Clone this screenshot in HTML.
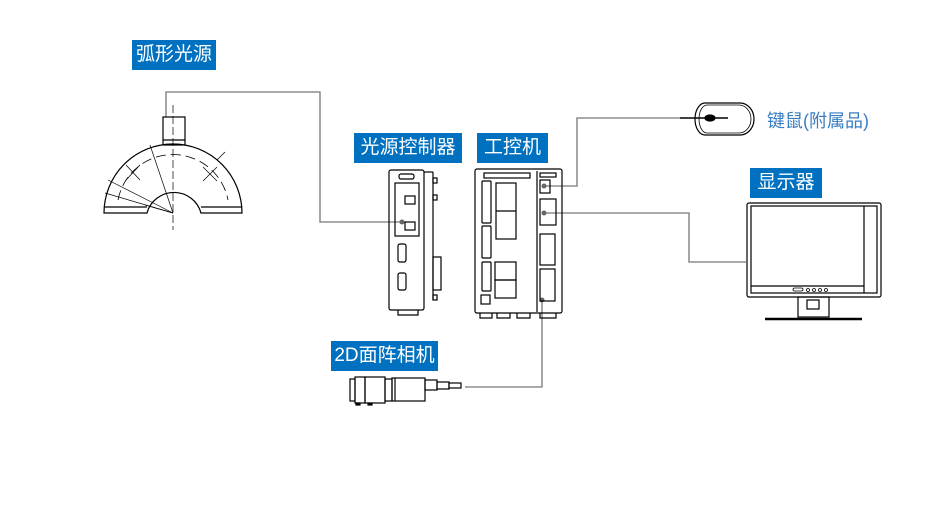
<!DOCTYPE html>
<html><head><meta charset="utf-8"><style>
body{margin:0;background:#fff;width:951px;height:520px;overflow:hidden;}
.lb{position:absolute;background:#0070c0;color:#fff;font-family:"Liberation Sans","Noto Sans CJK SC",sans-serif;font-size:19px;line-height:30px;height:30px;text-align:center;}
</style></head><body>
<div class="lb" style="left:132px;top:40px;width:84px;">弧形光源</div>
<div class="lb" style="left:354px;top:133px;width:108px;">光源控制器</div>
<div class="lb" style="left:477px;top:133px;width:71px;">工控机</div>
<div class="lb" style="left:750px;top:168px;width:72px;">显示器</div>
<div class="lb" style="left:331px;top:341px;width:107px;">2D面阵相机</div>
<div style="position:absolute;left:767px;top:107px;font-family:'Liberation Sans','Noto Sans CJK SC',sans-serif;font-size:18px;color:#3a7dc0;">键鼠(附属品)</div>
<svg width="951" height="520" style="position:absolute;left:0;top:0" fill="none" stroke="#000" stroke-width="1.2">
<!-- cables -->
<g stroke="#777" stroke-width="1.3">
<polyline points="166,117 166,92 320,92 320,222 402,222"/>
<polyline points="544,186 577,186 577,118 680,118"/>
<polyline points="544,213 689,213 689,262 746,262"/>
<polyline points="542,300 542,387 465,387"/>
</g>
<g fill="#666" stroke="none"><circle cx="402" cy="222" r="2.5"/><circle cx="544" cy="186" r="2.5"/><circle cx="544" cy="213" r="2.5"/><circle cx="542" cy="300" r="2.5"/></g>
<!-- arc light -->
<path d="M104,213 A69,69 0 0 1 242,213 L201,213 A28,28 0 0 0 147,213 Z"/>
<line x1="104" y1="207" x2="147" y2="207"/><line x1="201" y1="207" x2="242" y2="207"/>
<path d="M118,200 A56,56 0 0 1 228,200" stroke-dasharray="10,5" stroke-width="0.8"/>
<rect x="163" y="117" width="22" height="28"/><line x1="163" y1="140" x2="185" y2="140"/>
<line x1="173" y1="105" x2="173" y2="230" stroke-dasharray="8,3" stroke-width="0.7"/>
<g stroke-width="0.7"><line x1="173" y1="213" x2="150" y2="145"/><line x1="173" y1="213" x2="108" y2="180"/><line x1="173" y1="213" x2="105" y2="193"/><line x1="173" y1="213" x2="145" y2="205"/>
<line x1="126" y1="165" x2="140" y2="180"/><line x1="126" y1="180" x2="140" y2="165"/><line x1="203" y1="167" x2="217" y2="181"/><line x1="203" y1="181" x2="217" y2="167"/><line x1="217" y1="160" x2="225" y2="152"/></g>
<!-- light controller -->
<rect x="389" y="170" width="35" height="140" rx="2"/>
<rect x="399" y="174" width="15" height="5" rx="2"/>
<rect x="395" y="183" width="24" height="53"/>
<rect x="405" y="196" width="10" height="8"/><rect x="405" y="222" width="10" height="8"/>
<rect x="398" y="244" width="8" height="18" rx="2"/><rect x="398" y="273" width="8" height="17" rx="2"/>
<line x1="424" y1="172" x2="433" y2="172"/><line x1="433" y1="172" x2="433" y2="300"/>
<rect x="433" y="257" width="8" height="33"/><rect x="433" y="178" width="4" height="5"/><rect x="433" y="195" width="4" height="5"/><rect x="433" y="295" width="4" height="5"/>
<path d="M398,310 v5 h20 v-5"/>
<!-- IPC -->
<rect x="475" y="169" width="87" height="144" rx="2"/>
<line x1="537" y1="171" x2="537" y2="312"/>
<rect x="484" y="173" width="46" height="5"/>
<rect x="482" y="181" width="9" height="42" rx="1"/><rect x="482" y="226" width="9" height="32" rx="1"/><rect x="482" y="262" width="9" height="29" rx="1"/>
<rect x="496" y="183" width="20" height="56"/><line x1="496" y1="211" x2="516" y2="211"/>
<rect x="495" y="262" width="21" height="18"/><rect x="495" y="280" width="21" height="18"/>
<rect x="481" y="295" width="9" height="9"/>
<rect x="540" y="173" width="16" height="4"/>
<rect x="540" y="180" width="10" height="13"/><rect x="540" y="199" width="16" height="26"/><rect x="540" y="234" width="15" height="31"/><rect x="540" y="269" width="15" height="32"/>
<path d="M480,313 v5 h12 v-5 M497,313 v5 h13 v-5 M517,313 v5 h13 v-5 M540,313 v5 h16 v-5"/>
<!-- camera -->
<rect x="350" y="379" width="5" height="22"/><rect x="355" y="377" width="10" height="26"/><rect x="365" y="377" width="20" height="26"/><rect x="385" y="379" width="7" height="22"/>
<rect x="392" y="378" width="33" height="23"/><line x1="395" y1="378" x2="395" y2="401"/>
<rect x="425" y="380" width="12" height="10"/><rect x="437" y="382" width="12" height="7"/><rect x="449" y="383" width="12" height="5"/>
<rect x="356" y="403" width="4" height="2" fill="#000"/><rect x="368" y="403" width="4" height="2" fill="#000"/>
<!-- mouse -->
<path d="M705,103 H740 A14,16 0 0 1 740,135 H705 A10,16 0 0 1 705,103 Z"/>
<path d="M707,105 H739 A12,14 0 0 1 739,133 H707 A8,14 0 0 1 707,105 Z" stroke-width="0.8"/>
<line x1="680" y1="118" x2="728" y2="118" stroke-width="1.5"/><ellipse cx="710" cy="118" rx="5" ry="3" fill="#000"/>
<!-- monitor -->
<rect x="747" y="203" width="134" height="94" rx="2"/>
<rect x="751" y="206" width="126" height="87"/>
<line x1="864" y1="206" x2="864" y2="293"/><line x1="751" y1="286" x2="864" y2="286"/>
<g stroke-width="0.8"><rect x="793" y="288" width="10" height="3" rx="1.5"/><circle cx="808" cy="290" r="1.5"/><circle cx="814" cy="290" r="1.5"/><circle cx="820" cy="290" r="1.5"/><circle cx="826" cy="290" r="1.5"/></g>
<rect x="798" y="297" width="31" height="20"/><rect x="807" y="300" width="12" height="9"/>
<line x1="765" y1="319" x2="862" y2="319" stroke-width="2.5"/>
</svg>
</body></html>
